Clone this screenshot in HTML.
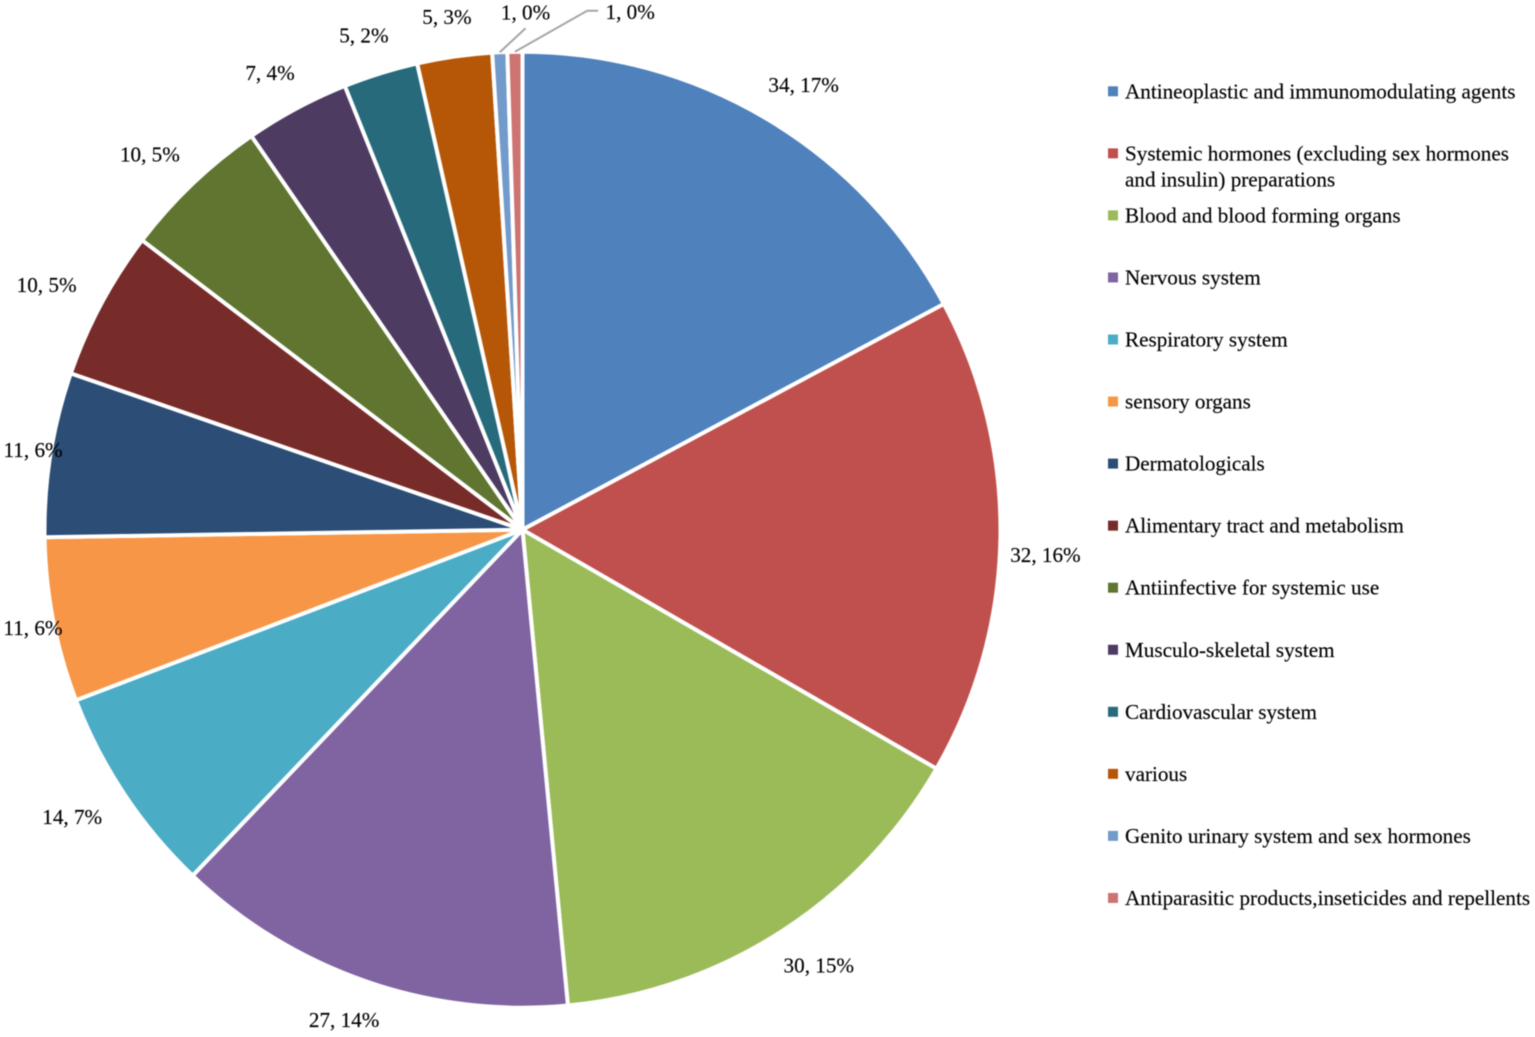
<!DOCTYPE html>
<html lang="en">
<head>
<meta charset="utf-8">
<title>Drug categories pie chart</title>
<style>
html,body{margin:0;padding:0;background:#fff;width:1535px;height:1037px;overflow:hidden}
svg{display:block;position:absolute;left:0;top:0;filter:blur(0.5px)}
text{font-family:"Liberation Serif",serif;font-size:21.15px;fill:#000;stroke:#000;stroke-width:0.15px}
</style>
</head>
<body>
<svg id="chart" width="1535" height="1037" viewBox="0 0 1535 1037" xmlns="http://www.w3.org/2000/svg"></svg>
<script>
const categories = ["Antineoplastic and immunomodulating agents","Systemic hormones (excluding sex hormones\nand insulin) preparations","Blood and blood forming organs","Nervous system","Respiratory system","sensory organs","Dermatologicals","Alimentary tract and metabolism","Antiinfective for systemic use","Musculo-skeletal system","Cardiovascular system","various","Genito urinary system and sex hormones","Antiparasitic products,inseticides and repellents"];
const seriesValues = [34,32,30,27,14,11,11,10,10,7,5,5,1,1];
const percentLabels = [17,16,15,14,7,6,6,5,5,4,2,3,0,0];
const sliceColors = ["#4F81BD","#C0504D","#9BBB59","#8064A2","#4BACC6","#F79646","#2C4D75","#772C2A","#5F7530","#4D3B62","#276A7C","#B65708","#729ACA","#CD7371"];
const labelNudgeX = [12,-1,13,-7,-14,25,28,-14,-11,-5,-3,-1,28,116];
const labelNudgeY = [5,17,-5,-5,-3,-1,3,3,4,5,6,6,6,6];

const svg = document.getElementById('chart');
const NS = 'http://www.w3.org/2000/svg';
const cx = 522.5, cy = 529.7, radius = 478, labelRadius = 524;
const total = seriesValues.reduce((a, b) => a + b, 0);
const angleOf = v => v / total * 2 * Math.PI;
const polarX = (a, r) => cx + r * Math.sin(a);
const polarY = (a, r) => cy - r * Math.cos(a);

const sliceGroup = document.createElementNS(NS, 'g');


svg.appendChild(sliceGroup);
const labelGroup = document.createElementNS(NS, 'g');


svg.appendChild(labelGroup);
const legendGroup = document.createElementNS(NS, 'g');


svg.appendChild(legendGroup);

let cum = 0;
seriesValues.forEach((v, i) => {
  const a0 = angleOf(cum), a1 = angleOf(cum + v), mid = (a0 + a1) / 2;
  cum += v;
  const p = document.createElementNS(NS, 'path');
  
  
  const large = a1 - a0 > Math.PI ? 1 : 0;
  p.setAttribute('d', `M${cx} ${cy}L${polarX(a0, radius)} ${polarY(a0, radius)}A${radius} ${radius} 0 ${large} 1 ${polarX(a1, radius)} ${polarY(a1, radius)}Z`);
  p.setAttribute('fill', sliceColors[i]);
  p.setAttribute('stroke', '#fff');
  p.setAttribute('stroke-width', '4');
  p.setAttribute('stroke-linejoin', 'round');
  sliceGroup.appendChild(p);

  const lx = polarX(mid, labelRadius) + labelNudgeX[i];
  const ly = polarY(mid, labelRadius) + labelNudgeY[i];
  const t = document.createElementNS(NS, 'text');
  
  
  t.setAttribute('x', lx);
  t.setAttribute('y', ly + 7);
  t.setAttribute('text-anchor', 'middle');
  t.textContent = v + ', ' + percentLabels[i] + '%';
  labelGroup.appendChild(t);

  if (v / total < 0.01) {
    const sx = polarX(mid, radius), sy = polarY(mid, radius);
    const leader = document.createElementNS(NS, 'polyline');
    
    
    const pts = i === seriesValues.length - 1
      ? `${sx},${sy} ${lx - 43},${ly - 1} ${lx - 32},${ly - 1}`
      : `${sx},${sy} ${lx},${ly + 16}`;
    leader.setAttribute('points', pts);
    leader.setAttribute('fill', 'none');
    leader.setAttribute('stroke', '#a6a6a6');
    leader.setAttribute('stroke-width', '2');
    labelGroup.appendChild(leader);
  }

  const rowY = 91.3 + i * 62.05;
  const sw = document.createElementNS(NS, 'rect');
  
  
  sw.setAttribute('x', 1108);
  sw.setAttribute('y', rowY - 5);
  sw.setAttribute('width', 10);
  sw.setAttribute('height', 10);
  sw.setAttribute('fill', sliceColors[i]);
  legendGroup.appendChild(sw);

  const lt = document.createElementNS(NS, 'text');
  
  
  categories[i].split('\n').forEach((line, k) => {
    const ts = document.createElementNS(NS, 'tspan');
    ts.setAttribute('x', 1125);
    ts.setAttribute('y', rowY + 7 + k * 26);
    ts.textContent = line;
    lt.appendChild(ts);
  });
  legendGroup.appendChild(lt);
});
</script>
</body>
</html>
